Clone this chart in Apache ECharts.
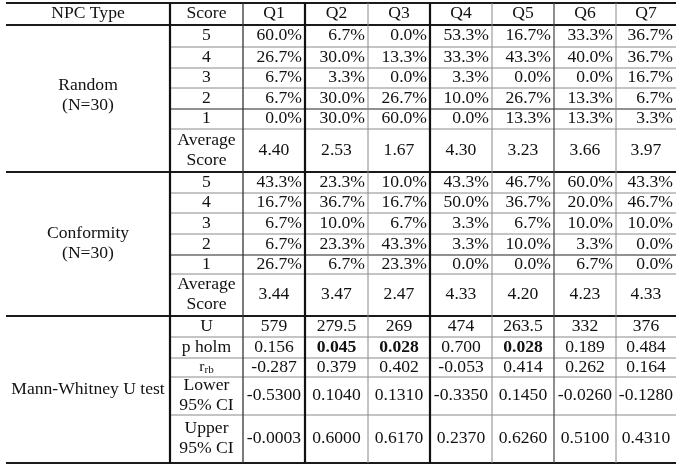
<!DOCTYPE html>
<html>
<head>
<meta charset="utf-8">
<script src="https://cdn.jsdelivr.net/npm/echarts@6/dist/echarts.min.js"></script>
<style>
html,body{margin:0;padding:0;background:#fff;}
#main{width:682px;height:466px;}
</style>
</head>
<body>
<div id="main"></div>
<script>
// ---------------- DATA ----------------
var headers = ['NPC Type', 'Score', 'Q1', 'Q2', 'Q3', 'Q4', 'Q5', 'Q6', 'Q7'];
var groupLabels = ['Random\n(N=30)', 'Conformity\n(N=30)', 'Mann-Whitney U test'];
var scoreLevels = ['5', '4', '3', '2', '1'];
var randomPct = [
  [60.0, 6.7, 0.0, 53.3, 16.7, 33.3, 36.7],
  [26.7, 30.0, 13.3, 33.3, 43.3, 40.0, 36.7],
  [6.7, 3.3, 0.0, 3.3, 0.0, 0.0, 16.7],
  [6.7, 30.0, 26.7, 10.0, 26.7, 13.3, 6.7],
  [0.0, 30.0, 60.0, 0.0, 13.3, 13.3, 3.3]
];
var randomAvg = ['4.40', '2.53', '1.67', '4.30', '3.23', '3.66', '3.97'];
var conformityPct = [
  [43.3, 23.3, 10.0, 43.3, 46.7, 60.0, 43.3],
  [16.7, 36.7, 16.7, 50.0, 36.7, 20.0, 46.7],
  [6.7, 10.0, 6.7, 3.3, 6.7, 10.0, 10.0],
  [6.7, 23.3, 43.3, 3.3, 10.0, 3.3, 0.0],
  [26.7, 6.7, 23.3, 0.0, 0.0, 6.7, 0.0]
];
var conformityAvg = ['3.44', '3.47', '2.47', '4.33', '4.20', '4.23', '4.33'];
var testLabels = ['U', 'p holm', '{r|r}{s|rb}', 'Lower\n95% CI', 'Upper\n95% CI'];
var uStat = ['579', '279.5', '269', '474', '263.5', '332', '376'];
var pHolm = ['0.156', '0.045', '0.028', '0.700', '0.028', '0.189', '0.484'];
var rrb = ['-0.287', '0.379', '0.402', '-0.053', '0.414', '0.262', '0.164'];
var ciLower = ['-0.5300', '0.1040', '0.1310', '-0.3350', '0.1450', '-0.0260', '-0.1280'];
var ciUpper = ['-0.0003', '0.6000', '0.6170', '0.2370', '0.6260', '0.5100', '0.4310'];
var alpha = 0.05;

// ---------------- LAYOUT ----------------
var colW = [164, 73, 62, 63, 62, 62, 62, 62, 60];
var rowH = [22, 22, 21, 20, 21, 20, 43, 21, 20, 21, 21, 19, 42, 21, 21, 19, 38, 48];
var colB = [0]; colW.forEach(function (w) { colB.push(colB[colB.length - 1] + w); });
var rowB = [0]; rowH.forEach(function (h) { rowB.push(rowB[rowB.length - 1] + h); });
var totalW = colB[colB.length - 1], totalH = rowB[rowB.length - 1];

// ---------------- BUILD CELLS ----------------
var cells = []; // [x0, x1, y0, y1, text, bold, align, dy]
function addCell(c0, c1, r0, r1, text, bold, align, dy) {
  cells.push([colB[c0], colB[c1], rowB[r0], rowB[r1], text, bold ? 1 : 0, align || 'center', dy || 0]);
}
headers.forEach(function (h, i) { addCell(i, i + 1, 0, 1, h, false, 'center'); });

function addBlock(startRow, label, pct, avg, labelDy) {
  addCell(0, 1, startRow, startRow + 6, label, false, 'center', labelDy);
  scoreLevels.forEach(function (s, k) {
    addCell(1, 2, startRow + k, startRow + k + 1, s, false, 'center');
    pct[k].forEach(function (v, q) {
      addCell(2 + q, 3 + q, startRow + k, startRow + k + 1, v.toFixed(1) + '%', false, 'right');
    });
  });
  addCell(1, 2, startRow + 5, startRow + 6, 'Average\nScore', false, 'center');
  avg.forEach(function (v, q) { addCell(2 + q, 3 + q, startRow + 5, startRow + 6, v, false, 'center', 0); });
}
addBlock(1, groupLabels[0], randomPct, randomAvg, -3);
addBlock(7, groupLabels[1], conformityPct, conformityAvg, 0);

addCell(0, 1, 13, 18, groupLabels[2], false, 'center');
var testRows = [uStat, pHolm, rrb, ciLower, ciUpper];
testLabels.forEach(function (lab, k) {
  addCell(1, 2, 13 + k, 14 + k, lab, false, 'center');
  testRows[k].forEach(function (v, q) {
    var bold = (k === 1 && parseFloat(v) < alpha);
    addCell(2 + q, 3 + q, 13 + k, 14 + k, v, bold, 'center');
  });
});

// ---------------- BUILD LINES ----------------
var lines = []; // [x0, y0, x1, y1, width, color]
var thickRows = [0, 1, 7, 13, 18];
var darkRows = [5, 11];
for (var r = 0; r < rowB.length; r++) {
  if (thickRows.indexOf(r) >= 0) {
    lines.push([0, rowB[r], totalW, rowB[r], 2.2, '#1a1a1a']);
  } else if (darkRows.indexOf(r) >= 0) {
    lines.push([colB[1], rowB[r], totalW, rowB[r], 1.2, '#222']);
  } else {
    lines.push([colB[1], rowB[r], totalW, rowB[r], 1, '#8a8a8a']);
  }
}
var vStyles = {1: [2.2, '#111'], 2: [1.3, '#333'], 3: [2.2, '#111'], 4: [1, '#888'],
               5: [2.2, '#111'], 6: [1, '#888'], 7: [1.2, '#444'], 8: [1, '#888']};
Object.keys(vStyles).forEach(function (k) {
  var c = +k;
  lines.push([colB[c], 0, colB[c], totalH, vStyles[k][0], vStyles[k][1]]);
});

// ---------------- CHART ----------------
var chart = echarts.init(document.getElementById('main'), null, {renderer: 'canvas'});
var FONT = '"Liberation Serif", "Times New Roman", serif';
chart.setOption({
  backgroundColor: '#fff',
  animation: false,
  grid: {left: 6, right: 6, top: 3, bottom: 3},
  xAxis: {type: 'value', min: 0, max: totalW, show: false},
  yAxis: {type: 'value', min: 0, max: totalH, inverse: true, show: false},
  series: [
    {
      type: 'custom',
      coordinateSystem: 'cartesian2d',
      data: lines,
      silent: true,
      renderItem: function (params, api) {
        var p0 = api.coord([api.value(0), api.value(1)]);
        var p1 = api.coord([api.value(2), api.value(3)]);
        var it = lines[params.dataIndex];
        return {
          type: 'line',
          shape: {x1: p0[0], y1: p0[1], x2: p1[0], y2: p1[1]},
          style: {stroke: it[5], lineWidth: it[4]}
        };
      },
      z: 2
    },
    {
      type: 'custom',
      coordinateSystem: 'cartesian2d',
      data: cells,
      silent: true,
      renderItem: function (params, api) {
        var it = cells[params.dataIndex];
        var p0 = api.coord([it[0], it[2]]);
        var p1 = api.coord([it[1], it[3]]);
        var align = it[6];
        var x = align === 'right' ? p1[0] - 3 : (p0[0] + p1[0]) / 2;
        var y = (p0[1] + p1[1]) / 2 + it[7];
        return {
          type: 'text',
          x: x,
          y: y,
          scaleX: 1.1,
          scaleY: 1,
          style: {
            text: it[4],
            x: 0,
            y: 0,
            align: align,
            verticalAlign: 'middle',
            fill: '#111',
            fontFamily: FONT,
            fontSize: 16,
            fontWeight: it[5] ? 'bold' : 'normal',
            lineHeight: 20,
            rich: {
              r: {fontFamily: FONT, fontSize: 14, fill: '#111', verticalAlign: 'middle'},
              s: {fontFamily: FONT, fontSize: 10, fill: '#111', padding: [6, 0, 0, 0]}
            }
          }
        };
      },
      z: 3
    }
  ]
});
</script>
</body>
</html>
